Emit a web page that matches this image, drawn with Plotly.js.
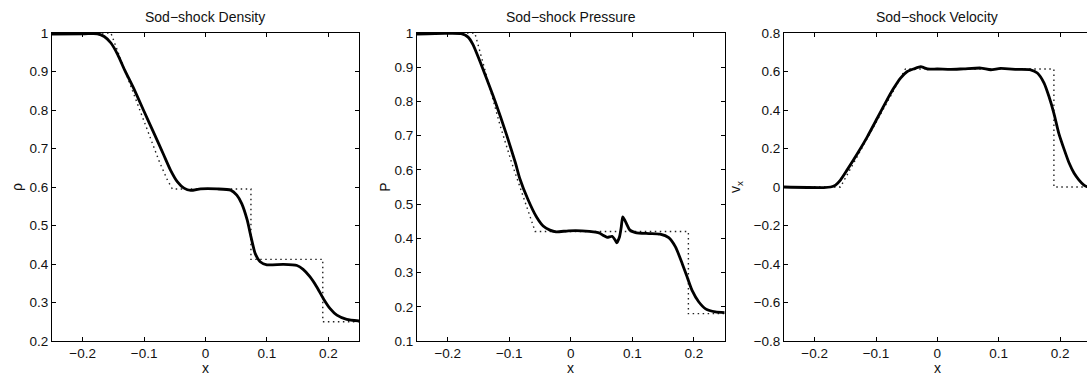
<!DOCTYPE html>
<html>
<head>
<meta charset="utf-8">
<script src="https://cdn.plot.ly/plotly-3.0.1.min.js"></script>
<style>
html, body { margin: 0; padding: 0; overflow: hidden; background: #fff; }
#chart { width: 1091px; height: 376px; }
</style>
</head>
<body>
<div id="chart"></div>
<script>
// ---- Density (numerical, solid) ----
const densX = [-0.25, -0.197, -0.176, -0.165, -0.154, -0.143, -0.132, -0.116, -0.1, -0.084, -0.068, -0.057, -0.046, -0.035, -0.024, -0.008, 0.019, 0.041, 0.051, 0.059, 0.068, 0.074, 0.081, 0.089, 0.1, 0.127, 0.149, 0.159, 0.17, 0.181, 0.192, 0.203, 0.214, 0.23, 0.25];
const densY = [0.997, 0.998, 0.998, 0.991, 0.974, 0.944, 0.905, 0.853, 0.796, 0.74, 0.683, 0.644, 0.614, 0.597, 0.591, 0.595, 0.595, 0.592, 0.579, 0.557, 0.514, 0.471, 0.427, 0.406, 0.398, 0.399, 0.396, 0.386, 0.367, 0.341, 0.31, 0.284, 0.267, 0.256, 0.252];
// ---- Density (exact, dotted) ----
const densExX = [-0.25, -0.154, -0.139, -0.122, -0.105, -0.089, -0.075, -0.062, -0.054, 0.074, 0.074, 0.191, 0.191, 0.25];
const densExY = [1.0, 1.0, 0.935, 0.862, 0.79, 0.722, 0.665, 0.618, 0.595, 0.595, 0.412, 0.412, 0.25, 0.25];

// ---- Pressure (numerical, solid) ----
const presX = [-0.25, -0.205, -0.178, -0.167, -0.159, -0.151, -0.144, -0.123, -0.104, -0.09, -0.083, -0.07, -0.056, -0.045, -0.034, -0.024, -0.004, 0.018, 0.04, 0.047, 0.052, 0.059, 0.067, 0.072, 0.0745, 0.079, 0.082, 0.0843, 0.089, 0.096, 0.105, 0.127, 0.145, 0.159, 0.17, 0.181, 0.189, 0.197, 0.208, 0.219, 0.235, 0.25];
const presY = [0.997, 0.999, 0.998, 0.988, 0.966, 0.932, 0.9, 0.8, 0.7, 0.62, 0.575, 0.515, 0.463, 0.436, 0.424, 0.419, 0.422, 0.422, 0.418, 0.415, 0.409, 0.403, 0.406, 0.395, 0.387, 0.404, 0.434, 0.463, 0.448, 0.424, 0.417, 0.414, 0.412, 0.402, 0.375, 0.326, 0.287, 0.248, 0.214, 0.194, 0.185, 0.183];
// ---- Pressure (exact, dotted) ----
const presExX = [-0.25, -0.156, -0.134, -0.115, -0.096, -0.078, -0.058, 0.191, 0.191, 0.25];
const presExY = [1.0, 1.0, 0.855, 0.73, 0.62, 0.525, 0.42, 0.42, 0.18, 0.18];

// ---- Velocity (numerical, solid) ----
const velX = [-0.25, -0.185, -0.174, -0.166, -0.158, -0.147, -0.13, -0.114, -0.098, -0.082, -0.071, -0.06, -0.049, -0.038, -0.027, -0.022, -0.016, 0.0, 0.022, 0.043, 0.071, 0.087, 0.103, 0.13, 0.152, 0.163, 0.174, 0.182, 0.19, 0.198, 0.207, 0.215, 0.223, 0.231, 0.239, 0.244, 0.25];
const velY = [0.0, -0.003, 0.0, 0.01, 0.036, 0.089, 0.175, 0.262, 0.357, 0.453, 0.514, 0.566, 0.6, 0.614, 0.625, 0.62, 0.613, 0.613, 0.611, 0.614, 0.618, 0.609, 0.616, 0.611, 0.609, 0.592, 0.54, 0.47, 0.383, 0.279, 0.193, 0.123, 0.071, 0.036, 0.01, 0.002, 0.0];
// ---- Velocity (exact, dotted) ----
const velExX = [-0.25, -0.158, -0.052, 0.19, 0.19, 0.25];
const velExY = [0.0, 0.0, 0.613, 0.613, 0.0, 0.0];

const titles = ['Sod\u2212shock Density', 'Sod\u2212shock Pressure', 'Sod\u2212shock Velocity'];
const yTitles = ['\u03c1', 'P', 'v<sub>x</sub>'];
const xTitle = 'x';
const xTicks = [-0.2, -0.1, 0, 0.1, 0.2];
const yTicks1 = [0.2, 0.3, 0.4, 0.5, 0.6, 0.7, 0.8, 0.9, 1];
const yTicks2 = [0.1, 0.2, 0.3, 0.4, 0.5, 0.6, 0.7, 0.8, 0.9, 1];
const yTicks3 = [-0.8, -0.6, -0.4, -0.2, 0, 0.2, 0.4, 0.6, 0.8];

const W = 1091, H = 376;
const FONT = 'Liberation Sans, Arial, Helvetica, sans-serif';
const FS = 14;
const TFS = 13.5;
const solid = {color: '#000', width: 2.8};
const dotted = {color: '#222', width: 1.4, dash: '1.5px,3.5px'};

const traces = [
  {x: densExX, y: densExY, xaxis: 'x', yaxis: 'y', mode: 'lines', line: dotted},
  {x: densX, y: densY, xaxis: 'x', yaxis: 'y', mode: 'lines', line: Object.assign({shape: 'spline', smoothing: 0.6}, solid)},
  {x: presExX, y: presExY, xaxis: 'x2', yaxis: 'y2', mode: 'lines', line: dotted},
  {x: presX, y: presY, xaxis: 'x2', yaxis: 'y2', mode: 'lines', line: Object.assign({shape: 'spline', smoothing: 0.6}, solid)},
  {x: velExX, y: velExY, xaxis: 'x3', yaxis: 'y3', mode: 'lines', line: dotted},
  {x: velX, y: velY, xaxis: 'x3', yaxis: 'y3', mode: 'lines', line: Object.assign({shape: 'spline', smoothing: 0.6}, solid)}
];

function xa(d0, d1, anchor) {
  return {
    domain: [d0 / W, d1 / W], anchor: anchor, range: [-0.25, 0.25],
    tickvals: xTicks, ticks: 'inside', ticklen: 4, tickwidth: 1, tickcolor: '#000',
    showline: true, linecolor: '#000', linewidth: 1, mirror: 'ticks',
    showgrid: false, zeroline: false,
    tickfont: {family: FONT, size: TFS, color: '#111'}
  };
}
function ya(range, ticks, title, anchor, standoff) {
  return {
    domain: [(H - 341) / H, (H - 33) / H], anchor: anchor, range: range,
    tickvals: ticks, ticks: 'inside', ticklen: 4, tickwidth: 1, tickcolor: '#000',
    showline: true, linecolor: '#000', linewidth: 1, mirror: 'ticks',
    showgrid: false, zeroline: false,
    tickfont: {family: FONT, size: TFS, color: '#111'},
    title: {text: title, font: {family: FONT, size: FS, color: '#111'}, standoff: standoff}
  };
}

const xDomNames = ['x domain', 'x2 domain', 'x3 domain'];
const annotations = [];
titles.forEach((t, i) => annotations.push({
  text: t, xref: xDomNames[i], yref: 'paper',
  x: 0.5, y: (H - 17) / H, xanchor: 'center', yanchor: 'middle',
  showarrow: false, font: {family: FONT, size: FS, color: '#111'}
}));
// x-axis titles
[0, 1, 2].forEach(i => annotations.push({
  text: xTitle, xref: xDomNames[i], yref: 'paper',
  x: 0.5, y: (H - 368) / H, xanchor: 'center', yanchor: 'middle', borderpad: 0,
  showarrow: false, font: {family: FONT, size: FS, color: '#111'}
}));

const layout = {
  width: W, height: H,
  margin: {l: 0, r: 0, t: 0, b: 0},
  paper_bgcolor: '#fff', plot_bgcolor: '#fff',
  showlegend: false,
  font: {family: FONT, size: FS, color: '#111'},
  xaxis: xa(52, 359, 'y'),
  xaxis2: xa(417, 724.7, 'y2'),
  xaxis3: xa(784, 1090.7, 'y3'),
  yaxis: ya([0.2, 1], yTicks1, yTitles[0], 'x', 3),
  yaxis2: ya([0.1, 1], yTicks2, yTitles[1], 'x2', 0),
  yaxis3: ya([-0.8, 0.8], yTicks3, yTitles[2], 'x3', 9),
  annotations: annotations
};

Plotly.newPlot('chart', traces, layout, {staticPlot: true, displayModeBar: false});
</script>
</body>
</html>
